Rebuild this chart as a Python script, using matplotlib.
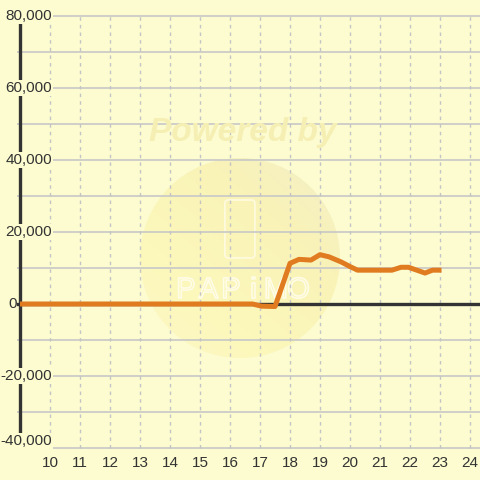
import matplotlib
matplotlib.use("Agg")
import matplotlib.pyplot as plt
import matplotlib.patheffects as pe
import numpy as np
from matplotlib.patches import Circle, FancyBboxPatch

plt.rcParams["font.family"] = ["Liberation Sans", "DejaVu Sans"]

# data
hours = [9.0, 16.75, 17.05, 17.5, 18.0, 18.3, 18.7, 19.0, 19.3, 19.7,
         20.0, 20.25, 21.4, 21.7, 21.95, 22.5, 22.75, 23.05]
values = [0, 0, -600, -700, 11300, 12400, 12200, 13700, 13100, 11700,
          10400, 9400, 9400, 10200, 10200, 8600, 9400, 9400]
x_ticks = list(range(10, 25))
y_ticks = [-40000, -20000, 0, 20000, 40000, 60000, 80000]
y_grid = list(range(-40000, 80001, 10000))

bg = "#fcfcd0"
txt = "#333333"

fig = plt.figure(figsize=(4.8, 4.8), dpi=100)
fig.patch.set_facecolor(bg)
ax = fig.add_axes([17 / 480, 30 / 480, 463 / 480, 436 / 480])
ax.set_facecolor(bg)
ax.set_xlim(8.9, 24.3333)
ax.set_ylim(-40556, 80556)
for s in ax.spines.values():
    s.set_visible(False)

# watermark
circ = Circle((240 / 480, 1 - 258 / 480), 100 / 480, transform=fig.transFigure,
              facecolor="none", edgecolor="none")
ax.add_patch(circ)
gx, gy = np.meshgrid(np.linspace(0, 1, 60), np.linspace(0, 1, 60))
grad = (gx + gy) / 2
cmap = matplotlib.colors.LinearSegmentedColormap.from_list(
    "wm", ["#fcf9c6", "#fcf7ba", "#f9f3b8", "#f2eec8"])
im = ax.imshow(grad, cmap=cmap, extent=(12.5, 20.2, -16500, 42000),
               aspect="auto", origin="lower", zorder=0.5)
im.set_clip_path(circ)
ax.add_patch(FancyBboxPatch((15.83, 12800), 1.0, 16100,
                            boxstyle="round,pad=0,rounding_size=0.12",
                            mutation_aspect=8000, facecolor="none", edgecolor="#fffce8",
                            linewidth=1.3, alpha=0.8, zorder=0.6))
for i, ch in enumerate("PAPiMO"):
    ax.text(14.53 + i * 0.75, 3900, ch, ha="center", va="center", fontsize=21,
            color=(1, 1, 1, 0), zorder=0.6,
            path_effects=[pe.withStroke(linewidth=1.2, foreground="#fffce8")])
fig.text(0.506, 1 - 133 / 480, "Powered by", ha="center", va="center", fontsize=24,
         fontweight="bold", fontstyle="italic", color="#f6efb4")

# grid
for yv in y_grid:
    ax.axhline(yv, color="#c8c8c8", linewidth=1.2, zorder=1)
ax.vlines(x_ticks, -40000, 80000, colors="#c4c4c4", linewidth=1.0,
          linestyles=(0, (2.5, 3)), zorder=1)

# axis lines
ax.axhline(0, color="#333333", linewidth=2.4, zorder=2)
ax.vlines([9.0], -40000, 80000, colors="#333333", linewidth=2.4, zorder=2)

ax.plot(hours, values, color="#e07b20", linewidth=3.6, solid_joinstyle="round",
        solid_capstyle="butt", zorder=3)

# y labels drawn over the plot
for yv in y_ticks:
    lab = f"{yv:,}"
    ypos = yv + 1900 if yv == -40000 else yv
    if yv == 0:
        ax.text(8.9 + (8 - 17) / 30, ypos, lab, ha="left", va="center", fontsize=11,
                color=txt, zorder=4, clip_on=False)
    else:
        ax.text(8.9 + (52 - 17) / 30, ypos, lab, ha="right", va="center", fontsize=11,
                color=txt, zorder=4, clip_on=False,
                bbox=dict(facecolor=bg, edgecolor="none", pad=1.0))

ax.set_yticks([])
ax.set_xticks(x_ticks)
ax.set_xticklabels([str(v) for v in x_ticks])
ax.tick_params(axis="x", length=0, pad=4, labelsize=11, labelcolor=txt)

fig.savefig("out.png", dpi=100, facecolor=bg)
